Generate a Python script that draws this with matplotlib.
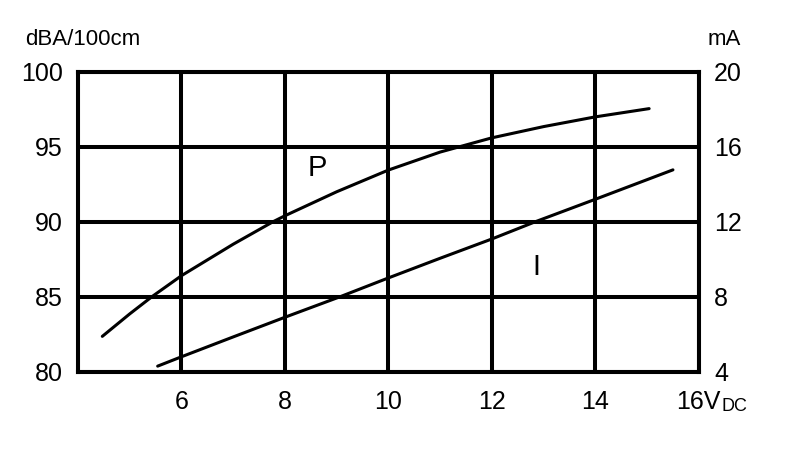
import matplotlib
matplotlib.use('Agg')
import matplotlib.pyplot as plt

plt.rcParams['font.family'] = ['Liberation Sans', 'DejaVu Sans']

# P curve: sound level (dBA at 100 cm), left axis
p_volt = [4.47, 5.0, 5.43, 6.0, 7.0, 7.77, 8.0, 9.0, 10.0, 11.0, 12.0, 13.0, 14.0, 15.04]
p_dba = [82.35, 83.85, 85.0, 86.4, 88.5, 90.0, 90.4, 92.0, 93.45, 94.65, 95.6, 96.35, 97.0, 97.55]

# I curve: current (mA), right axis
i_volt = [5.54, 6.0, 7.0, 8.0, 9.07, 10.0, 11.0, 12.0, 12.84, 14.0, 15.5]
i_ma = [4.29, 4.79, 5.85, 6.9, 8.0, 9.0, 10.05, 11.08, 12.0, 13.2, 14.77]

x_ticks = [6, 8, 10, 12, 14, 16]
x_labels = ['6', '8', '10', '12', '14', '16V']
left_ticks = [80, 85, 90, 95, 100]
right_ticks = [4, 8, 12, 16, 20]

fig = plt.figure(figsize=(8, 4.61), dpi=100)
ax = fig.add_axes([0.0975, 0.194, 0.776, 0.65])
ax2 = ax.twinx()

ax.plot(p_volt, p_dba, color='black', lw=2.2, solid_capstyle='round')
ax2.plot(i_volt, i_ma, color='black', lw=2.2, solid_capstyle='round')

ax.set_xlim(4, 16)
ax.set_ylim(80, 100)
ax2.set_ylim(4, 20)

ax.set_xticks(x_ticks)
ax.set_xticklabels(x_labels)
ax.set_yticks(left_ticks)
ax2.set_yticks(right_ticks)

for a in (ax, ax2):
    for s in a.spines.values():
        s.set_linewidth(2.9)
    a.tick_params(length=0, labelsize=18)
ax.tick_params(axis='x', pad=13)
ax.tick_params(axis='y', pad=11)
ax2.tick_params(axis='y', pad=11)

ax.grid(True, color='black', lw=2.9)
ax.set_axisbelow(True)

ax.annotate('DC', xy=(16, 80), xycoords='data', xytext=(16, -25),
            textcoords='offset points', fontsize=13, va='center', ha='left')

ax.text(8.62, 93.6, 'P', fontsize=21, ha='center', va='center')
ax.text(12.87, 87.0, 'I', fontsize=21, ha='center', va='center')

fig.text(0.032, 0.915, 'dBA/100cm', fontsize=16, ha='left', va='center')
fig.text(0.926, 0.915, 'mA', fontsize=16, ha='right', va='center')

fig.savefig('out.png', dpi=100)
